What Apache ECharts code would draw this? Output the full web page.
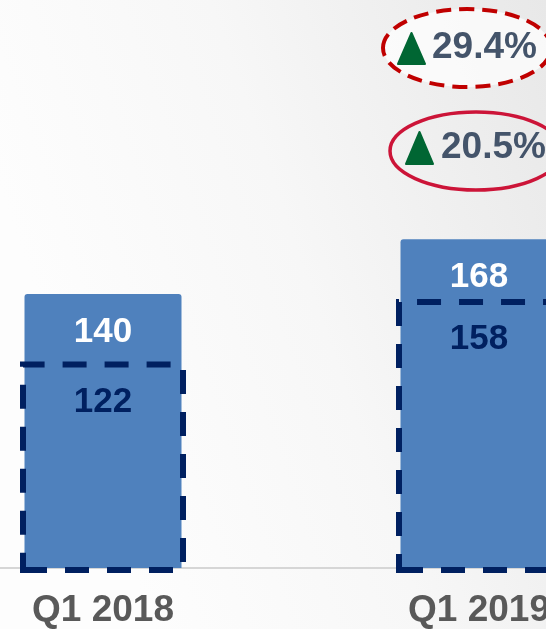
<!DOCTYPE html>
<html>
<head>
<meta charset="utf-8">
<script src="https://cdn.jsdelivr.net/npm/echarts@6/dist/echarts.min.js"></script>
<style>
  html, body { margin: 0; padding: 0; }
  #main { width: 546px; height: 629px; }
</style>
</head>
<body>
<div id="main"></div>
<script>
// 数据
var quarters = ['Q1 2018', 'Q1 2019'];
var totalValues = [140, 168];
var baseValues = [122, 158];
var growthLabels = ['29.4%', '20.5%'];

var chart = echarts.init(document.getElementById('main'));

var fontFamily = '"Liberation Sans", Arial, sans-serif';

var option = {
    backgroundColor: {
        type: 'linear', x: 0, y: 0.3, x2: 1, y2: 0,
        colorStops: [
            { offset: 0, color: '#fdfdfd' },
            { offset: 0.45, color: '#f7f7f7' },
            { offset: 1, color: '#e8e8e8' }
        ]
    },
    animation: false,
    grid: [
        { left: -85, right: -121, top: 18, bottom: 61, outerBoundsMode: 'none' },
        { left: -85, right: -121, top: 18, bottom: 56, outerBoundsMode: 'none' }
    ],
    xAxis: [{
        type: 'category',
        data: quarters,
        gridIndex: 0,
        axisTick: { show: false },
        axisLine: { lineStyle: { color: '#d6d6d6', width: 2 } },
        axisLabel: {
            margin: 24,
            color: '#595959',
            fontSize: 37,
            fontWeight: 'bold',
            fontFamily: fontFamily
        }
    }, {
        type: 'category',
        data: quarters,
        gridIndex: 1,
        show: false
    }],
    yAxis: [
        { type: 'value', min: 0, max: 281, show: false, gridIndex: 0 },
        { type: 'value', min: 0, max: 320, show: false, gridIndex: 1 }
    ],
    series: [{
        type: 'bar',
        data: totalValues,
        barWidth: 157,
        itemStyle: { color: '#4f81bd', borderRadius: [3, 3, 0, 0] },
        label: {
            show: true,
            position: 'insideTop',
            distance: 21,
            color: '#ffffff',
            fontSize: 35,
            fontWeight: 'bold',
            fontFamily: fontFamily
        },
        z: 2
    }, {
        type: 'bar',
        data: baseValues,
        xAxisIndex: 1,
        yAxisIndex: 1,
        barWidth: 166,
        itemStyle: {
            color: 'rgba(0,0,0,0)',
            borderColor: '#002060',
            borderWidth: 6,
            borderType: [24, 18]
        },
        label: {
            show: true,
            position: 'insideTop',
            distance: 23,
            color: '#002060',
            fontSize: 35,
            fontWeight: 'bold',
            fontFamily: fontFamily
        },
        z: 3
    }],
    graphic: [
        // 虚线椭圆 29.4%
        {
            type: 'ellipse',
            shape: { cx: 467, cy: 48, rx: 84, ry: 39 },
            style: { fill: 'rgba(255,255,255,0.7)', stroke: '#c00000', lineWidth: 4, lineDash: [15, 8] },
            z: 10
        },
        {
            type: 'polygon',
            shape: { points: [[411.5, 33], [398, 64], [425, 64]] },
            style: { fill: '#006633', stroke: '#006633', lineWidth: 2, lineJoin: 'round' },
            z: 11
        },
        {
            type: 'text',
            style: {
                x: 432, y: 48, text: growthLabels[0],
                font: 'bold 37px ' + fontFamily,
                fill: '#44546a', verticalAlign: 'middle'
            },
            z: 11
        },
        // 实线椭圆 20.5%
        {
            type: 'ellipse',
            shape: { cx: 476, cy: 151, rx: 86, ry: 39 },
            style: { fill: 'none', stroke: '#cc1438', lineWidth: 3.5 },
            z: 10
        },
        {
            type: 'polygon',
            shape: { points: [[419.5, 132], [406, 164], [433, 164]] },
            style: { fill: '#006633', stroke: '#006633', lineWidth: 2, lineJoin: 'round' },
            z: 11
        },
        {
            type: 'text',
            style: {
                x: 441, y: 148, text: growthLabels[1],
                font: 'bold 37px ' + fontFamily,
                fill: '#44546a', verticalAlign: 'middle'
            },
            z: 11
        }
    ]
};
chart.setOption(option);
</script>
</body>
</html>
